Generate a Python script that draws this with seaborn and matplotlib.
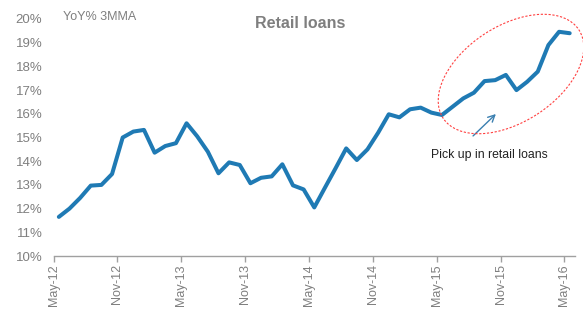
import matplotlib
matplotlib.use("Agg")
import matplotlib.pyplot as plt
import seaborn as sns
import numpy as np
import pandas as pd
from matplotlib.patches import Ellipse

# Retail loans, YoY% 3MMA, monthly May-12 .. May-16
values = [11.65, 12.0, 12.45, 12.97, 13.0, 13.46, 15.0, 15.25, 15.32, 14.36,
          14.64, 14.76, 15.6, 15.05, 14.4, 13.49, 13.95, 13.84, 13.07, 13.3,
          13.36, 13.87, 12.98, 12.81, 12.05, 12.88, 13.7, 14.54, 14.05, 14.5,
          15.2, 15.98, 15.85, 16.19, 16.26, 16.05, 15.95, 16.3, 16.65, 16.89,
          17.38, 17.42, 17.64, 17.0, 17.35, 17.78, 18.9, 19.46, 19.4]
tick_labels = ["May-12", "Nov-12", "May-13", "Nov-13", "May-14",
               "Nov-14", "May-15", "Nov-15", "May-16"]
y_ticks = [10, 11, 12, 13, 14, 15, 16, 17, 18, 19, 20]

# months since May-12, points sit mid-month
df = pd.DataFrame({"month": np.arange(len(values)) + 0.5, "yoy": values})

sns.set_theme(style="white")
plt.rcParams["font.family"] = ["Liberation Sans", "DejaVu Sans"]
grey = "#7f7f7f"

fig = plt.figure(figsize=(5.83, 3.14), dpi=100)
ax = fig.add_axes([0.0918, 0.1847, 0.8945, 0.7548])

sns.lineplot(data=df, x="month", y="yoy", ax=ax, color="#1f7ab4", linewidth=2.9)

ax.set_xlim(0, 49)
ax.set_ylim(10, 20)
ax.set_xticks(np.arange(0, 49, 6))
ax.set_xticklabels(tick_labels, rotation=90, fontsize=9, color=grey)
ax.set_yticks(y_ticks)
ax.set_yticklabels([f"{v}%" for v in y_ticks], fontsize=9.5, color=grey)
ax.set_xlabel("")
ax.set_ylabel("")

for s in ["top", "right", "left"]:
    ax.spines[s].set_visible(False)
ax.spines["bottom"].set_color("#a0a0a0")
ax.spines["bottom"].set_linewidth(1.0)
ax.tick_params(axis="x", bottom=True, length=4, width=1, color="#a0a0a0", pad=2)
ax.tick_params(axis="y", left=False, length=0, pad=8)

fig.text(0.515, 0.925, "Retail loans", ha="center", va="center",
         fontsize=11.5, fontweight="bold", color=grey)
fig.text(0.108, 0.945, "YoY% 3MMA", ha="left", va="center",
         fontsize=9, color=grey)

# annotation
ax.annotate("", xy=(0.854, 0.643), xytext=(0.808, 0.561),
            xycoords="figure fraction", textcoords="figure fraction",
            arrowprops=dict(arrowstyle="->", color="#3a7fb0", lw=1.0))
fig.text(0.740, 0.505, "Pick up in retail loans", ha="left", va="center",
         fontsize=8.8, color="#222222")

ell = Ellipse((5.11, 2.40), 1.62, 0.96, angle=33, transform=fig.dpi_scale_trans,
              fill=False, edgecolor="#ff4040", linestyle=(0, (2, 1.5)), linewidth=0.8)
fig.add_artist(ell)

fig.savefig("out.png", dpi=100)
